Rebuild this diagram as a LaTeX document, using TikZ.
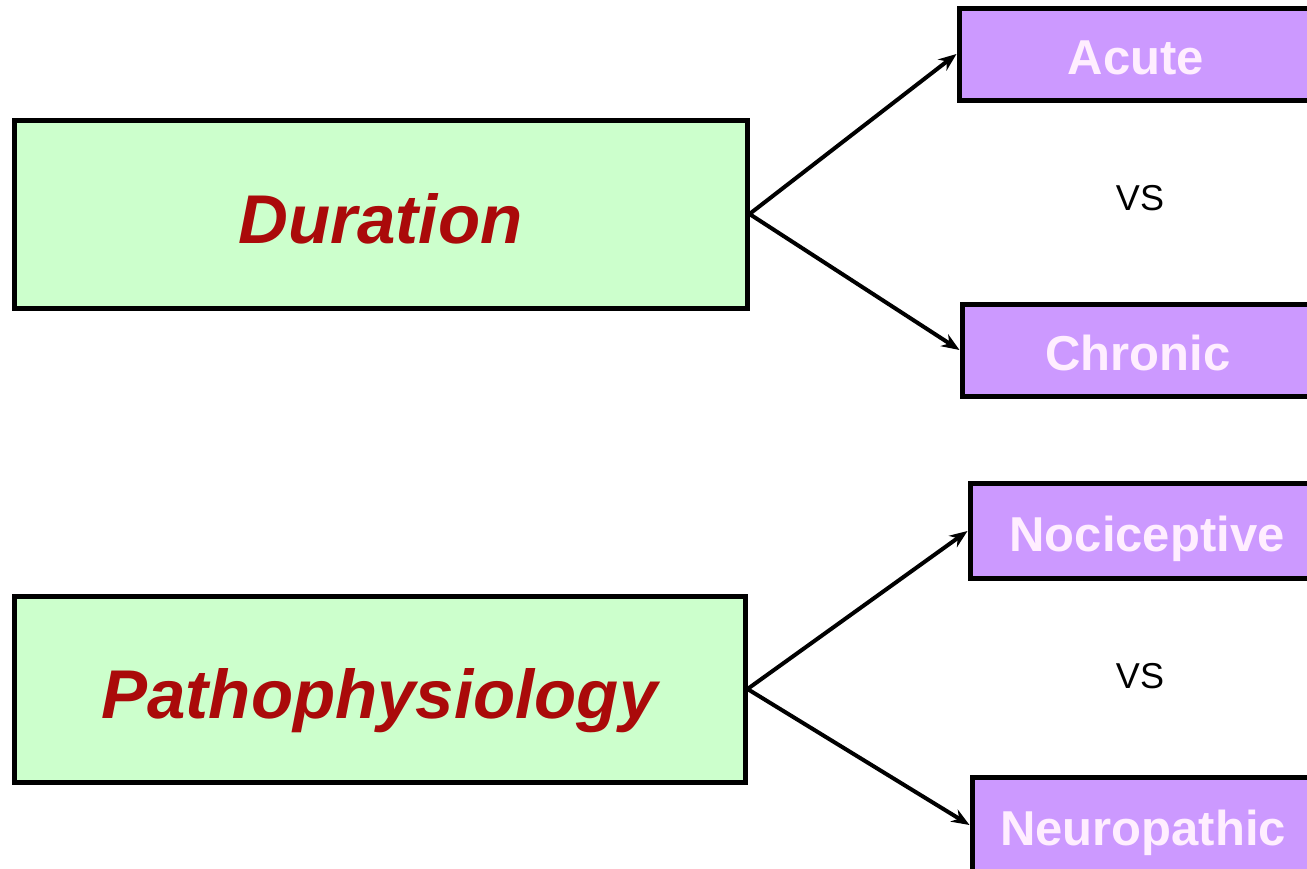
\documentclass[tikz,border=0pt]{standalone}
\usepackage{fontspec}
\setmainfont{Liberation Sans}
\usetikzlibrary{arrows.meta}
\definecolor{boxgreen}{HTML}{CCFFCC}
\definecolor{boxpurple}{HTML}{CC99FF}
\definecolor{titlered}{HTML}{AA0A0A}
\definecolor{paletext}{HTML}{FFEEFF}
\begin{document}
\begin{tikzpicture}[x=1pt,y=-1pt,
  mainbox/.style={draw=black,line width=5pt,fill=boxgreen,rectangle,inner sep=0pt,
    minimum width=733pt,minimum height=188pt,text height=58pt,text depth=0pt,
    font=\fontsize{69}{80}\selectfont\bfseries\itshape,text=titlered},
  subbox/.style={draw=black,line width=5pt,fill=boxpurple,rectangle,inner sep=0pt,
    minimum height=92pt,text height=40pt,text depth=0pt,
    font=\fontsize{49}{58}\selectfont\bfseries,text=paletext},
  vslabel/.style={font=\fontsize{36}{42}\selectfont,inner sep=0pt},
  link/.style={line width=4pt,-{Stealth[length=18pt,width=14pt]}}]
\useasboundingbox (0,0) rectangle (1307,868);
\clip (0,0) rectangle (1307,868);
\node[mainbox] (dur) at (380.5,214) {Duration};
\node[mainbox,minimum width=731pt,minimum height=186pt] (path) at (379.5,689) {Pathophysiology};
\node[subbox,minimum width=354pt] (acute) at (1136,54) {Acute};
\node[subbox,minimum width=352pt] (chronic) at (1138,350) {Chronic};
\node[subbox,minimum width=354pt,minimum height=95pt] (noci) at (1147,531) {Nociceptive};
\node[subbox,minimum width=342pt,minimum height=95pt] (neuro) at (1143,825) {Neuropathic};
\node[vslabel] (vs1) at (1140,198) {VS};
\node[vslabel] (vs2) at (1140,676) {VS};
\draw[link] (dur.east) -- (acute.west);
\draw[link] (dur.east) -- (chronic.west);
\draw[link] (path.east) -- (noci.west);
\draw[link] (path.east) -- (neuro.west);
\end{tikzpicture}
\end{document}
